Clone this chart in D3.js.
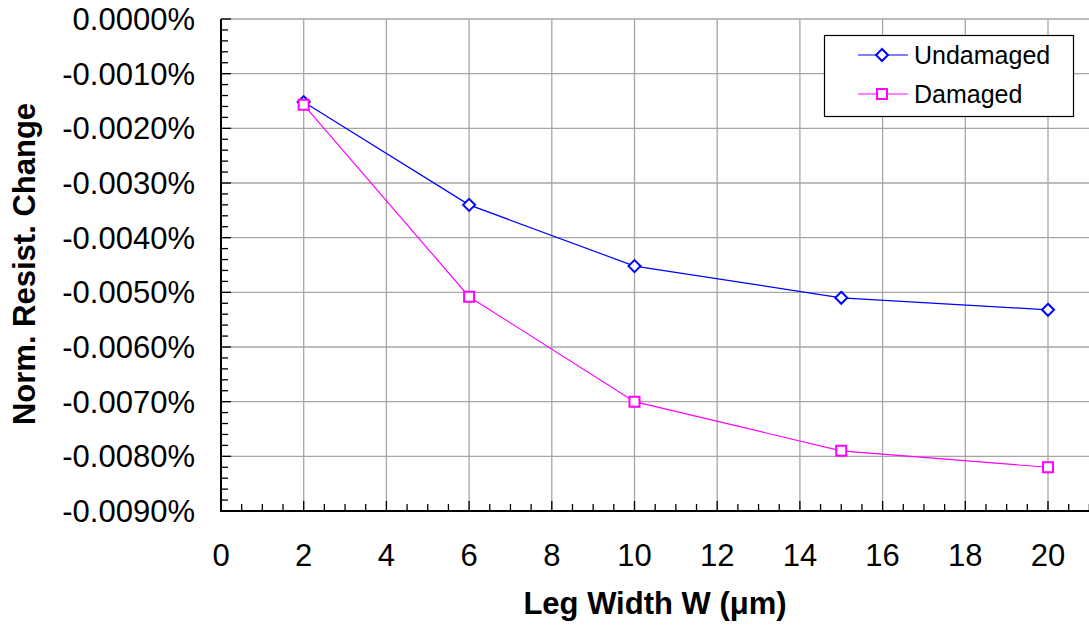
<!DOCTYPE html>
<html lang="en">
<head>
<meta charset="UTF-8">
<script src="https://cdn.jsdelivr.net/npm/d3@7"></script>
<style>
    body { margin: 0; background: white; }
    text { font-family: 'Liberation Sans', Arial, sans-serif; }
</style>
</head>
<body>
<div id="chart"></div>
<script>
    // values are already in percent
    const widths = [2, 6, 10, 15, 20];
    const undamaged = [-0.00152, -0.00340, -0.00452, -0.00510, -0.00532];
    const damaged = [-0.00157, -0.00508, -0.00700, -0.00790, -0.00820];
    const xTicks = [0, 2, 4, 6, 8, 10, 12, 14, 16, 18, 20];
    const yTicks = d3.range(0, 10).map(i => -i * 0.001);

    const W = 1089, H = 626;
    const plotLeft = 221, plotTop = 19, plotBottom = 511;

    const svg = d3.select("#chart").append("svg")
        .attr("width", W)
        .attr("height", H);

    // 41.35 px per unit of W, the plot runs off the right edge
    const x = d3.scaleLinear().domain([0, (W - plotLeft) / 41.35]).range([plotLeft, W]);
    const y = d3.scaleLinear().domain([0, -0.009]).range([plotTop, plotBottom]);

    // grid
    svg.append("g").selectAll("line")
        .data(xTicks.filter(d => d > 0))
        .enter().append("line")
        .attr("x1", d => x(d)).attr("x2", d => x(d))
        .attr("y1", plotTop).attr("y2", plotBottom)
        .attr("stroke", "#a6a6a6").attr("stroke-width", 1.3);
    svg.append("g").selectAll("line")
        .data(yTicks.filter(d => d > -0.009))
        .enter().append("line")
        .attr("x1", plotLeft).attr("x2", W)
        .attr("y1", d => y(d)).attr("y2", d => y(d))
        .attr("stroke", "#a6a6a6").attr("stroke-width", 1.3);

    // minor ticks
    const xMinor = d3.range(0, 21.5, 0.5);
    svg.append("g").selectAll("line")
        .data(xMinor)
        .enter().append("line")
        .attr("x1", d => x(d)).attr("x2", d => x(d))
        .attr("y1", plotBottom)
        .attr("y2", d => plotBottom - (d % 2 === 0 ? 10 : 7))
        .attr("stroke", "black").attr("stroke-width", 1.3);
    const yMinor = d3.range(0, 46).map(i => -i * 0.0002);
    svg.append("g").selectAll("line")
        .data(yMinor)
        .enter().append("line")
        .attr("x1", plotLeft)
        .attr("x2", (d, i) => plotLeft + (i % 5 === 0 ? 10 : 7))
        .attr("y1", d => y(d)).attr("y2", d => y(d))
        .attr("stroke", "black").attr("stroke-width", 1.3);

    // axis lines
    svg.append("line")
        .attr("x1", plotLeft).attr("x2", plotLeft).attr("y1", plotTop).attr("y2", plotBottom + 1)
        .attr("stroke", "black").attr("stroke-width", 2);
    svg.append("line")
        .attr("x1", plotLeft).attr("x2", W).attr("y1", plotBottom).attr("y2", plotBottom)
        .attr("stroke", "black").attr("stroke-width", 2);

    // tick labels
    svg.append("g").selectAll("text")
        .data(yTicks)
        .enter().append("text")
        .attr("x", 195)
        .attr("y", d => y(d) + 11)
        .attr("text-anchor", "end")
        .attr("font-size", 31)
        .text(d => d.toFixed(4) + "%");
    svg.append("g").selectAll("text")
        .data(xTicks)
        .enter().append("text")
        .attr("x", d => x(d))
        .attr("y", 566)
        .attr("text-anchor", "middle")
        .attr("font-size", 31)
        .text(d => d);

    // axis titles
    svg.append("text")
        .attr("x", 655).attr("y", 614)
        .attr("text-anchor", "middle")
        .attr("font-size", 31).attr("font-weight", "bold")
        .text("Leg Width W (μm)");
    svg.append("text")
        .attr("transform", "translate(35,264) rotate(-90)")
        .attr("text-anchor", "middle")
        .attr("font-size", 31).attr("font-weight", "bold")
        .text("Norm. Resist. Change");

    const line = d3.line().x((d, i) => x(widths[i])).y(d => y(d));

    const drawSeries = (values, color, shape) => {
        svg.append("path")
            .datum(values)
            .attr("d", line)
            .attr("fill", "none")
            .attr("stroke", color)
            .attr("stroke-width", 1.2);
        svg.append("g").selectAll("path")
            .data(values)
            .enter().append("path")
            .attr("transform", (d, i) => `translate(${x(widths[i])},${y(d)})`)
            .attr("d", shape)
            .attr("fill", "white")
            .attr("stroke", color)
            .attr("stroke-width", 2);
    };
    const diamond = "M0,-6L6,0L0,6L-6,0Z";
    const square = "M-5,-5H5V5H-5Z";
    drawSeries(undamaged, "#0000ff", diamond);
    drawSeries(damaged, "#ff00ff", square);

    // legend
    const lg = svg.append("g");
    lg.append("rect")
        .attr("x", 824.5).attr("y", 35.5).attr("width", 249).attr("height", 81)
        .attr("fill", "white").attr("stroke", "black").attr("stroke-width", 1.2);
    const items = [["Undamaged", "#0000ff", diamond, 55], ["Damaged", "#ff00ff", square, 94]];
    items.forEach(([name, color, shape, ly]) => {
        lg.append("line")
            .attr("x1", 858).attr("x2", 908).attr("y1", ly).attr("y2", ly)
            .attr("stroke", color).attr("stroke-width", 1.2);
        lg.append("path")
            .attr("transform", `translate(882,${ly})`)
            .attr("d", shape)
            .attr("fill", "white").attr("stroke", color).attr("stroke-width", 2);
        lg.append("text")
            .attr("x", 914).attr("y", ly + 9)
            .attr("font-size", 25)
            .text(name);
    });
</script>
</body>
</html>
